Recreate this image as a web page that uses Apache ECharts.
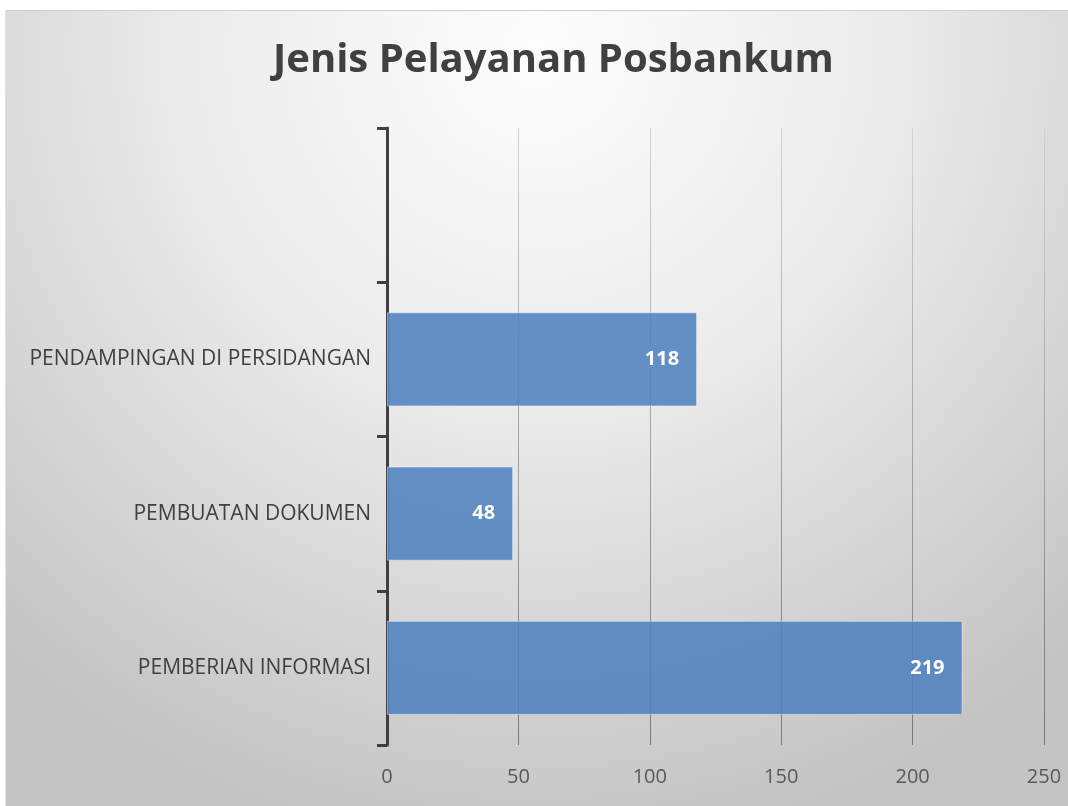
<!DOCTYPE html>
<html>
<head>
<meta charset="utf-8">
<script src="https://cdn.jsdelivr.net/npm/echarts@6/dist/echarts.min.js"></script>
<style>
  html, body { margin: 0; padding: 0; background: #ffffff; }
  #chart {
    position: absolute; left: 5px; top: 10px; width: 1063px; height: 796px;
    border-top: 1px solid #cfcfcf; border-left: 1px solid #e0e0e0; box-sizing: border-box;
  }
</style>
</head>
<body>
<div id="chart"></div>
<script>
// kategori dari bawah ke atas (kategori teratas kosong)
var categories = ['PEMBERIAN INFORMASI', 'PEMBUATAN DOKUMEN', 'PENDAMPINGAN DI PERSIDANGAN', ''];
var values = [219, 48, 118, null];
var xTicks = [0, 50, 100, 150, 200, 250];

var chart = echarts.init(document.getElementById('chart'));
var FONT = '"Open Sans", sans-serif';

var option = {
    backgroundColor: {
        type: 'radial', x: 0.5, y: 0.05, r: 1.0,
        colorStops: [
            { offset: 0, color: '#fdfdfd' },
            { offset: 0.45, color: '#ebebeb' },
            { offset: 1, color: '#c4c4c4' }
        ]
    },
    title: {
        text: 'Jenis Pelayanan Posbankum',
        left: 262,
        top: 25,
        textStyle: { fontFamily: FONT, fontSize: 40, fontWeight: 'bold', color: '#404040' }
    },
    grid: { left: 381, right: 24, top: 117, bottom: 61, containLabel: false },
    xAxis: {
        type: 'value',
        min: xTicks[0],
        max: xTicks[xTicks.length - 1],
        interval: 50,
        axisLine: { show: false },
        axisTick: { show: false },
        axisLabel: { fontFamily: FONT, fontSize: 20, color: '#595959', margin: 22 },
        splitLine: {
            show: true,
            lineStyle: {
                width: 1,
                color: {
                    type: 'linear', x: 0, y: 117, x2: 0, y2: 735, global: true,
                    colorStops: [
                        { offset: 0, color: '#d2d2d2' },
                        { offset: 1, color: '#777777' }
                    ]
                }
            }
        }
    },
    yAxis: {
        type: 'category',
        data: categories,
        axisLine: { show: true, lineStyle: { color: '#404040', width: 3 } },
        axisTick: { show: true, length: 10, lineStyle: { color: '#404040', width: 3 } },
        axisLabel: { fontFamily: FONT, fontSize: 21, color: '#404040', margin: 16 },
        splitLine: { show: false }
    },
    series: [{
        type: 'bar',
        data: values,
        barCategoryGap: '39%',
        itemStyle: {
            color: 'rgba(79,129,189,0.87)',
            borderColor: 'rgba(255,255,255,0.45)',
            borderWidth: 1
        },
        label: {
            show: true,
            position: 'insideRight',
            distance: 18,
            fontFamily: FONT,
            fontSize: 20,
            fontWeight: 'bold',
            color: '#ffffff'
        },
        silent: true,
        animation: false
    }]
};
chart.setOption(option);
</script>
</body>
</html>
